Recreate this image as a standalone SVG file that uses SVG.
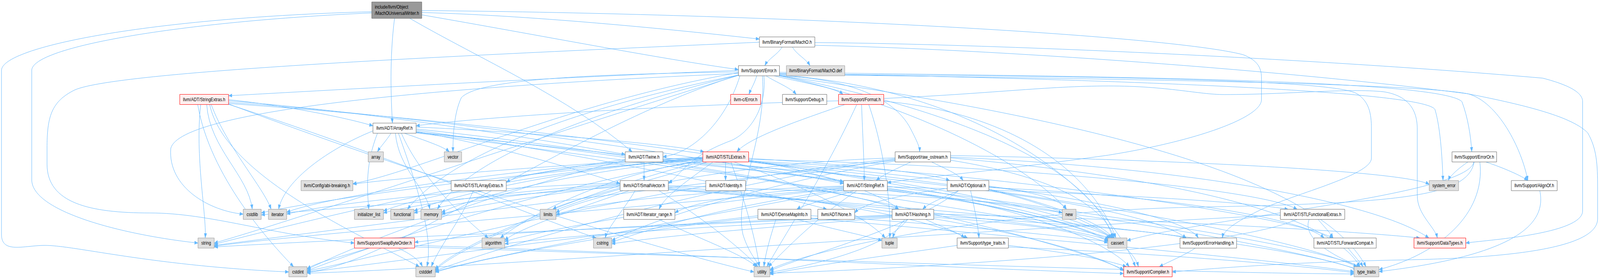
<svg xmlns="http://www.w3.org/2000/svg" width="5341" height="714" viewBox="0 0 5341 714">
<style>
.nd rect{fill:#ffffff;stroke:#666666;stroke-width:1;vector-effect:non-scaling-stroke}
.gy rect{fill:#e0e0e0;stroke:#999999;stroke-width:1;vector-effect:non-scaling-stroke}
.rd rect{fill:#fff0f0;stroke:#ff0000;stroke-width:1;vector-effect:non-scaling-stroke}
.rt rect{fill:#999999;stroke:#666666;stroke-width:1;vector-effect:non-scaling-stroke}
text{font-family:"Liberation Sans",Arial,Helvetica,sans-serif;font-size:13.33px;fill:#000000;text-anchor:middle}
.rt text{text-anchor:start}
#edges path{fill:none;stroke:#63b8ff;stroke-width:1;vector-effect:non-scaling-stroke;marker-end:url(#arr)}
</style>
<defs>
<marker id="arr" markerWidth="13" markerHeight="10" refX="12" refY="4.5" orient="auto" markerUnits="userSpaceOnUse">
<path d="M0,0 L12,4.5 L0,9 z" fill="#63b8ff" stroke="#63b8ff" stroke-width="0.5"/>
</marker>
</defs>
<rect x="0" y="0" width="5341" height="714" fill="#ffffff"/>
<g id="diagram" transform="scale(0.766897,1)">
<g id="edges">
<path d="M1317,47 C1300,150 1305,250 1310,315"/>
<path d="M1368,47 C1600,150 1900,250 2110,388.5"/>
<path d="M1408,32 C1800,40 2300,80 2535,100"/>
<path d="M1408,38 C1800,90 2200,150 2465,178"/>
<path d="M1408,27 C2600,35 3900,90 4150,140 C4200,155 4211,175 4211,200 L4211,255 C4211,300 4000,360 3700,397 C3300,440 3050,455 2962,468"/>
<path d="M1241,30 C500,45 5,120 5,180 L5,600 C5,650 80,628 150,628 C250,628 500,680 964,696"/>
<path d="M1241,33 C600,55 106,120 106,180 L106,460 C106,540 400,600 661,622"/>
<path d="M2611,120.5 C2595,140 2565,150 2553,168"/>
<path d="M2645,120.5 C2660,140 2690,150 2704,168"/>
<path d="M2720,109 C3300,112 4400,150 5150,200 C5250,220 5283,240 5283,260 L5283,540 C5283,600 4950,615 4893,622"/>
<path d="M2720,116 C3300,125 4300,180 4900,240 C5100,270 5250,300 5300,340 C5330,380 5333,420 5333,480 L5333,560 C5333,640 5000,660 4700,665 C4300,670 4000,690 3913,696"/>
<path d="M2535,108 C1600,140 400,180 250,230 C170,260 157,300 157,380 L157,420 C157,520 300,545 500,545 C700,545 900,600 1183,622"/>
<path d="M2526,194 C2518,215 2508,225 2500,241.5"/>
<path d="M2557,194 C2590,210 2640,225 2658,241.5"/>
<path d="M2584,194 C2700,215 2790,225 2814,241.5"/>
<path d="M2465,180 C1800,200 1000,235 763,245"/>
<path d="M2550,194 C2560,280 2500,340 2440,360 C2300,400 2280,440 2231,470"/>
<path d="M2470,194 C2420,320 2300,395 2213,401"/>
<path d="M2465,186 C1900,260 1400,440 1178,470"/>
<path d="M2602,190 C3500,200 4700,210 4900,240 C5000,260 5080,380 5100,462"/>
<path d="M2602,192 C3300,230 3700,500 3790,682.5"/>
<path d="M2602,189 C3500,195 4450,200 4530,240 C4570,260 4578,290 4578,330 L4578,405 C4578,450 4300,500 4200,540 C4120,570 4085,590 4080,609"/>
<path d="M2602,185 C3500,195 4800,200 4880,260 C4900,300 4910,350 4913,388.5"/>
<path d="M2602,194 C2800,200 2980,240 3040,330 C3060,360 3070,375 3070,388.5"/>
<path d="M2602,193 C3300,300 3650,450 3715,609"/>
<path d="M2465,192 C1900,330 1300,680 1025,696"/>
<path d="M2465,188 C1500,220 600,280 570,380 C560,480 700,540 812,548"/>
<path d="M2465,192 C1900,280 1500,400 1360,535.5"/>
<path d="M2465,192 C1900,300 1550,420 1460,535.5"/>
<path d="M2602,194 C3000,260 3400,400 3560,535.5"/>
<path d="M2465,193 C1800,350 1000,560 715,622"/>
<path d="M2602,188 C3600,200 4750,230 4790,280 C4810,330 4815,420 4817,462"/>
<path d="M2602,194 C3600,300 4400,450 4560,682.5"/>
<path d="M2545,194 C2560,350 2450,500 2480,600 C2500,650 2530,670 2535,682.5"/>
<path d="M2465,184 C2000,190 1600,200 1540,250 C1515,290 1512,350 1512,388.5"/>
<path d="M763,255 C950,270 1150,300 1245,322"/>
<path d="M763,262 C1500,300 2500,420 2816,470"/>
<path d="M763,258 C1300,290 1900,370 2087,395"/>
<path d="M763,265 C2000,330 3400,500 3720,609"/>
<path d="M700,267.5 C750,450 1200,600 1400,682.5"/>
<path d="M660,267.5 C700,450 900,620 980,682.5"/>
<path d="M690,267.5 C700,380 830,450 842,535.5"/>
<path d="M763,267 C1300,400 1800,560 1990,609"/>
<path d="M705,267.5 C760,380 880,480 905,535.5"/>
<path d="M670,267.5 C650,400 690,550 685,609"/>
<path d="M763,266 C1400,450 2200,640 2517,696"/>
<path d="M1389,330 C2000,380 2800,480 3000,535.5"/>
<path d="M1389,333 C2000,400 2600,500 2760,535.5"/>
<path d="M1389,336 C1700,380 1950,440 2070,470"/>
<path d="M1389,325 C1800,340 2250,370 2350,388.5"/>
<path d="M1389,338 C2500,420 3500,600 3751,690"/>
<path d="M1340,341 C1400,450 1550,560 1630,609"/>
<path d="M1305,341 C1290,360 1270,375 1260,388.5"/>
<path d="M1389,340 C2500,450 3500,560 3705,609"/>
<path d="M1330,341 C1380,450 1450,600 1425,682.5"/>
<path d="M1260,341 C1220,420 1225,480 1231,535.5"/>
<path d="M1245,335 C1100,380 950,460 930,535.5"/>
<path d="M1320,341 C1330,430 1420,480 1435,535.5"/>
<path d="M1389,339 C2800,450 4300,600 4540,682.5"/>
<path d="M1350,341 C1420,360 1480,375 1500,388.5"/>
<path d="M2799,258 C2200,270 1600,300 1389,322"/>
<path d="M2820,267.5 C2700,300 2500,350 2460,388.5"/>
<path d="M2876,267.5 C2880,350 2885,420 2885,462"/>
<path d="M2950,252 C3300,240 3500,220 3700,220 C3900,220 4000,242 4087,242 C4300,242 4500,225 4620,235 C4700,245 4731,280 4731,330 L4731,500 C4731,550 4790,580 4798,609"/>
<path d="M2950,259 C3400,290 3650,450 3725,609"/>
<path d="M2900,267.5 C2960,400 2975,550 2970,609"/>
<path d="M2860,267.5 C2750,450 2620,600 2560,682.5"/>
<path d="M2150,414.5 L2150,462"/>
<path d="M2213,404 C2500,420 2750,445 2816,466"/>
<path d="M2213,410 C3000,450 3800,520 3960,609"/>
<path d="M2213,412 C3000,470 3550,550 3700,614"/>
<path d="M2087,410 C1700,480 1200,620 1025,690"/>
<path d="M2087,408 C1500,470 900,590 715,625"/>
<path d="M2499,410 C2750,440 2950,500 3000,535.5"/>
<path d="M2499,405 C2800,420 3100,440 3170,462"/>
<path d="M2346,405 C2000,420 1750,440 1690,466"/>
<path d="M2499,412 C3300,440 4300,550 4450,609"/>
<path d="M2499,408 C3300,420 4200,480 4330,535.5"/>
<path d="M2422,414.5 L2422,462"/>
<path d="M2380,414.5 C2300,460 2220,500 2200,535.5"/>
<path d="M2346,402 C1900,420 1400,450 1178,471"/>
<path d="M2499,413 C3300,460 3950,540 4000,609"/>
<path d="M2346,410 C2000,450 1750,560 1670,609"/>
<path d="M2499,414 C3000,460 3600,540 3710,609"/>
<path d="M2346,413 C1900,500 1500,640 1453,690"/>
<path d="M2346,411 C1800,480 1200,640 1025,693"/>
<path d="M2346,408 C1700,440 1000,520 872,545"/>
<path d="M2346,406 C1900,430 1500,500 1382,540"/>
<path d="M2346,404 C1900,430 1400,500 1280,540"/>
<path d="M2346,403 C1800,420 1100,500 957,543"/>
<path d="M2360,414.5 C2200,460 1900,510 1845,535.5"/>
<path d="M2346,407 C1900,440 1550,510 1474,544"/>
<path d="M2450,414.5 C2700,480 2900,560 2955,609"/>
<path d="M2499,414 C3400,480 4300,600 4530,682.5"/>
<path d="M2440,414.5 C2480,500 2520,600 2535,682.5"/>
<path d="M2988,404 C2700,410 2400,440 2231,466"/>
<path d="M3040,414.5 C3000,430 2950,445 2925,462"/>
<path d="M3110,414.5 C3150,430 3200,445 3215,462"/>
<path d="M3173,402 C4000,430 4600,520 4770,609"/>
<path d="M3173,410 C3500,450 3680,520 3720,609"/>
<path d="M2988,408 C2300,480 1600,650 1453,693"/>
<path d="M2988,406 C2200,470 1300,650 1025,694"/>
<path d="M2988,412 C2500,480 2150,570 2042,616"/>
<path d="M2988,410 C2000,500 1000,600 715,628"/>
<path d="M3173,398 C4000,410 4700,440 4771,472"/>
<path d="M3173,404 C4000,460 4450,560 4540,682.5"/>
<path d="M4960,414.5 C5020,430 5080,450 5100,462"/>
<path d="M4900,414.5 C4870,430 4840,450 4835,462"/>
<path d="M4920,414.5 C4900,500 4000,560 3762,616"/>
<path d="M4940,414.5 C4960,550 4800,650 4603,690"/>
<path d="M4921,414.5 C4900,500 4700,520 4000,530 C3300,540 2700,640 2570,690"/>
<path d="M5140,488 C5160,560 5100,650 4603,695"/>
<path d="M1580,488 C1540,560 1460,640 1440,682.5"/>
<path d="M2231,482 C3000,520 3600,620 3751,693"/>
<path d="M2231,478 C2700,500 3100,560 3230,609"/>
<path d="M2100,488 C1900,540 1720,590 1685,615"/>
<path d="M2231,484 C3000,530 3600,580 3700,616"/>
<path d="M2070,484 C1800,540 1500,650 1453,692"/>
<path d="M2070,478 C1700,500 1000,540 872,550"/>
<path d="M2120,488 C2080,540 2030,580 2020,609"/>
<path d="M2070,472 C1800,490 1500,520 1382,545"/>
<path d="M2070,470 C1700,490 1400,520 1280,545"/>
<path d="M2070,468 C1600,480 1100,520 957,548"/>
<path d="M2080,488 C1980,510 1880,530 1856,545"/>
<path d="M2070,474 C1800,500 1550,530 1474,548"/>
<path d="M2231,475 C2800,490 3400,510 3546,545"/>
<path d="M2231,486 C3300,540 4300,620 4530,690"/>
<path d="M2200,488 C2350,560 2480,640 2530,682.5"/>
<path d="M2850,488 C2760,510 2680,525 2660,535.5"/>
<path d="M2962,478 C3500,490 4100,510 4300,535.5"/>
<path d="M2816,478 C2500,490 2300,520 2253,545"/>
<path d="M2962,484 C3400,520 3700,620 3770,682.5"/>
<path d="M2816,482 C2300,520 1800,590 1685,618"/>
<path d="M2962,486 C3300,520 3600,570 3700,618"/>
<path d="M2816,486 C2300,560 1600,660 1453,695"/>
<path d="M2816,484 C2400,530 2150,590 2042,620"/>
<path d="M2816,476 C2300,490 1950,520 1856,550"/>
<path d="M2816,480 C2000,540 1000,600 715,630"/>
<path d="M2962,488 C3600,540 4300,630 4535,690"/>
<path d="M2860,488 C2720,560 2620,640 2565,682.5"/>
<path d="M3200,488 C3150,505 3100,520 3080,535.5"/>
<path d="M3162,482 C3000,500 2880,520 2853,545"/>
<path d="M3301,480 C3900,500 4350,560 4420,609"/>
<path d="M3301,486 C3600,540 3780,620 3800,682.5"/>
<path d="M3240,488 C3255,540 3265,580 3268,609"/>
<path d="M3301,484 C3500,520 3680,570 3715,609"/>
<path d="M3301,478 C3450,490 3540,510 3560,535.5"/>
<path d="M3200,488 C3050,580 2700,650 2570,693"/>
<path d="M2200,561.5 C2300,600 2480,650 2525,682.5"/>
<path d="M2707,552 C3100,570 3500,600 3698,618"/>
<path d="M2530,556 C2100,590 1600,660 1453,697"/>
<path d="M2530,552 C2000,600 1300,670 1025,697"/>
<path d="M2660,561.5 C2800,590 2900,605 2944,616"/>
<path d="M2707,558 C3300,600 4200,660 4520,695"/>
<path d="M2590,561.5 C2570,610 2555,650 2550,682.5"/>
<path d="M3117,548 C3800,560 4500,590 4740,609"/>
<path d="M3117,552 C3500,570 3850,590 3960,609"/>
<path d="M2978,550 C2400,570 1700,590 1384,620"/>
<path d="M3090,561.5 C3140,580 3200,595 3220,609"/>
<path d="M2978,554 C2500,575 1900,600 1685,624"/>
<path d="M3117,556 C3400,570 3600,590 3698,622"/>
<path d="M2978,556 C2600,580 2250,600 2042,624"/>
<path d="M2978,552 C2200,580 1200,610 715,632"/>
<path d="M3020,561.5 C3000,580 2985,595 2980,609"/>
<path d="M3030,561.5 C2950,640 2700,680 2570,697"/>
<path d="M4400,561.5 C4420,580 4440,595 4450,609"/>
<path d="M4274,550 C3000,600 1500,690 1025,699"/>
<path d="M4370,561.5 C4340,620 4500,670 4540,682.5"/>
<path d="M4330,561.5 C4100,640 3000,690 2570,699"/>
<path d="M1384,628 C2300,650 3300,690 3751,700"/>
<path d="M1330,635 C1370,650 1400,665 1410,682.5"/>
<path d="M1230,635 C1150,655 1060,670 1025,688"/>
<path d="M1384,632 C2500,660 4000,700 4520,701"/>
<path d="M3366,628 C3550,645 3700,665 3760,682.5"/>
<path d="M3366,632 C3900,650 4350,680 4520,698"/>
<path d="M3195,628 C3000,650 2700,680 2570,702"/>
<path d="M3990,635 C3950,655 3900,670 3870,682.5"/>
<path d="M4500,635 C4520,655 4540,670 4550,682.5"/>
</g>
<g id="n_root" class="rt"><rect x="1241" y="5" width="167" height="42"/><text x="1251" y="22">include/llvm/Object</text><text x="1251" y="38">/MachOUniversalWriter.h</text></g>
<g id="n_macho_h" class="nd"><rect x="2535" y="94.5" width="185" height="26"/><text x="2627.5" y="112">llvm/BinaryFormat/MachO.h</text></g>
<g id="n_error_h" class="nd"><rect x="2465" y="168" width="137" height="26"/><text x="2533.5" y="185.5">llvm/Support/Error.h</text></g>
<g id="n_macho_def" class="gy"><rect x="2625" y="168" width="195" height="26"/><text x="2722.5" y="185.5">llvm/BinaryFormat/MachO.def</text></g>
<g id="n_stringextras" class="rd"><rect x="600" y="241.5" width="163" height="26"/><text x="681.5" y="259">llvm/ADT/StringExtras.h</text></g>
<g id="n_llvmc_error" class="rd"><rect x="2439" y="241.5" width="100" height="26"/><text x="2489" y="259">llvm-c/Error.h</text></g>
<g id="n_debug" class="nd"><rect x="2612" y="241.5" width="148" height="26"/><text x="2686" y="259">llvm/Support/Debug.h</text></g>
<g id="n_format" class="rd"><rect x="2799" y="241.5" width="151" height="26"/><text x="2874.5" y="259">llvm/Support/Format.h</text></g>
<g id="n_arrayref" class="nd"><rect x="1245" y="315" width="144" height="26"/><text x="1317" y="332.5">llvm/ADT/ArrayRef.h</text></g>
<g id="n_array" class="gy"><rect x="1229" y="388.5" width="51" height="26"/><text x="1254.5" y="406">array</text></g>
<g id="n_vector" class="gy"><rect x="1483" y="388.5" width="58" height="26"/><text x="1512" y="406">vector</text></g>
<g id="n_twine" class="nd"><rect x="2087" y="388.5" width="126" height="26"/><text x="2150" y="406">llvm/ADT/Twine.h</text></g>
<g id="n_stlextras" class="rd"><rect x="2346" y="388.5" width="153" height="26"/><text x="2422.5" y="406">llvm/ADT/STLExtras.h</text></g>
<g id="n_raw_ostream" class="nd"><rect x="2988" y="388.5" width="185" height="26"/><text x="3080.5" y="406">llvm/Support/raw_ostream.h</text></g>
<g id="n_erroror" class="nd"><rect x="4847" y="388.5" width="149" height="26"/><text x="4921.5" y="406">llvm/Support/ErrorOr.h</text></g>
<g id="n_abi" class="gy"><rect x="1005" y="462" width="173" height="26"/><text x="1091.5" y="479.5">llvm/Config/abi-breaking.h</text></g>
<g id="n_stlarrayextras" class="nd"><rect x="1506" y="462" width="184" height="26"/><text x="1598" y="479.5">llvm/ADT/STLArrayExtras.h</text></g>
<g id="n_smallvector" class="nd"><rect x="2070" y="462" width="161" height="26"/><text x="2150.5" y="479.5">llvm/ADT/SmallVector.h</text></g>
<g id="n_identity" class="nd"><rect x="2356" y="462" width="133" height="26"/><text x="2422.5" y="479.5">llvm/ADT/identity.h</text></g>
<g id="n_stringref" class="nd"><rect x="2816" y="462" width="146" height="26"/><text x="2889" y="479.5">llvm/ADT/StringRef.h</text></g>
<g id="n_optional" class="nd"><rect x="3162" y="462" width="139" height="26"/><text x="3231.5" y="479.5">llvm/ADT/Optional.h</text></g>
<g id="n_system_error" class="gy"><rect x="4771" y="462" width="98" height="26"/><text x="4820" y="479.5">system_error</text></g>
<g id="n_alignof" class="nd"><rect x="5045" y="462" width="153" height="26"/><text x="5121.5" y="479.5">llvm/Support/AlignOf.h</text></g>
<g id="n_cstdlib" class="gy"><rect x="812" y="535.5" width="60" height="26"/><text x="842" y="553">cstdlib</text></g>
<g id="n_iterator" class="gy"><rect x="896" y="535.5" width="61" height="26"/><text x="926.5" y="553">iterator</text></g>
<g id="n_initializer_list" class="gy"><rect x="1183" y="535.5" width="97" height="26"/><text x="1231.5" y="553">initializer_list</text></g>
<g id="n_functional" class="gy"><rect x="1304" y="535.5" width="78" height="26"/><text x="1343" y="553">functional</text></g>
<g id="n_memory" class="gy"><rect x="1405" y="535.5" width="69" height="26"/><text x="1439.5" y="553">memory</text></g>
<g id="n_limits" class="gy"><rect x="1803" y="535.5" width="53" height="26"/><text x="1829.5" y="553">limits</text></g>
<g id="n_iterator_range" class="nd"><rect x="2082" y="535.5" width="171" height="26"/><text x="2167.5" y="553">llvm/ADT/iterator_range.h</text></g>
<g id="n_densemapinfo" class="nd"><rect x="2530" y="535.5" width="177" height="26"/><text x="2618.5" y="553">llvm/ADT/DenseMapInfo.h</text></g>
<g id="n_none" class="nd"><rect x="2730" y="535.5" width="123" height="26"/><text x="2791.5" y="553">llvm/ADT/None.h</text></g>
<g id="n_hashing" class="nd"><rect x="2978" y="535.5" width="139" height="26"/><text x="3047.5" y="553">llvm/ADT/Hashing.h</text></g>
<g id="n_new" class="gy"><rect x="3546" y="535.5" width="46" height="26"/><text x="3569" y="553">new</text></g>
<g id="n_stlfunctionalextras" class="nd"><rect x="4274" y="535.5" width="215" height="26"/><text x="4381.5" y="553">llvm/ADT/STLFunctionalExtras.h</text></g>
<g id="n_string" class="gy"><rect x="661" y="609" width="54" height="26"/><text x="688" y="626.5">string</text></g>
<g id="n_swapbyteorder" class="rd"><rect x="1183" y="609" width="201" height="26"/><text x="1283.5" y="626.5">llvm/Support/SwapByteOrder.h</text></g>
<g id="n_algorithm" class="gy"><rect x="1609" y="609" width="76" height="26"/><text x="1647" y="626.5">algorithm</text></g>
<g id="n_cstring" class="gy"><rect x="1981" y="609" width="61" height="26"/><text x="2011.5" y="626.5">cstring</text></g>
<g id="n_tuple" class="gy"><rect x="2944" y="609" width="51" height="26"/><text x="2969.5" y="626.5">tuple</text></g>
<g id="n_sup_type_traits" class="nd"><rect x="3195" y="609" width="171" height="26"/><text x="3280.5" y="626.5">llvm/Support/type_traits.h</text></g>
<g id="n_cassert" class="gy"><rect x="3698" y="609" width="64" height="26"/><text x="3730" y="626.5">cassert</text></g>
<g id="n_errorhandling" class="nd"><rect x="3939" y="609" width="189" height="26"/><text x="4033.5" y="626.5">llvm/Support/ErrorHandling.h</text></g>
<g id="n_stlforwardcompat" class="nd"><rect x="4386" y="609" width="208" height="26"/><text x="4490" y="626.5">llvm/ADT/STLForwardCompat.h</text></g>
<g id="n_datatypes" class="rd"><rect x="4720" y="609" width="173" height="26"/><text x="4806.5" y="626.5">llvm/Support/DataTypes.h</text></g>
<g id="n_cstdint" class="gy"><rect x="964" y="682.5" width="61" height="26"/><text x="994.5" y="700">cstdint</text></g>
<g id="n_cstddef" class="gy"><rect x="1388" y="682.5" width="65" height="26"/><text x="1420.5" y="700">cstddef</text></g>
<g id="n_utility" class="gy"><rect x="2517" y="682.5" width="53" height="26"/><text x="2543.5" y="700">utility</text></g>
<g id="n_compiler" class="rd"><rect x="3751" y="682.5" width="162" height="26"/><text x="3832" y="700">llvm/Support/Compiler.h</text></g>
<g id="n_type_traits" class="gy"><rect x="4520" y="682.5" width="83" height="26"/><text x="4561.5" y="700">type_traits</text></g>
</g>
</svg>
